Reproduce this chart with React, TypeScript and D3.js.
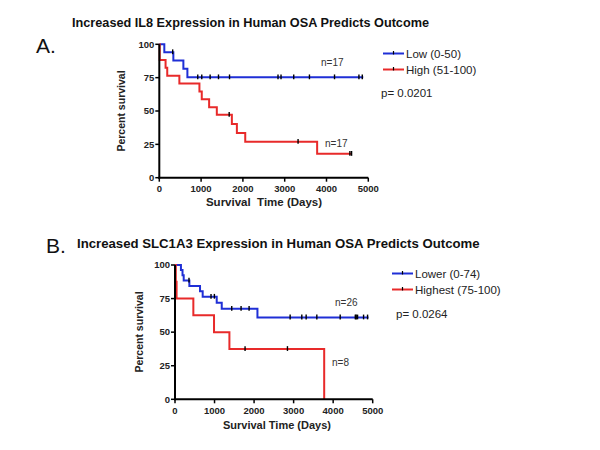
import React from "react";
import * as d3 from "d3";

// ---------- Panel A data (IL8) ----------
const aLowTimes = [0, 120, 336, 576, 672];
const aLowSurv = [100, 94.1, 87.8, 81.6, 75.3];
const aLowEnd = 4880;
const aLowCensor = [320, 920, 1016, 1216, 1416, 1680, 2840, 2912, 3216, 3592, 4192, 4776, 4856];

const aHighTimes = [0, 10, 150, 190, 480, 960, 1016, 1192, 1376, 1736, 1856, 2056, 3776];
const aHighSurv = [100, 88.2, 82.4, 76.5, 70.6, 64.7, 58.8, 52.9, 47.1, 40.3, 33.6, 26.9, 17.9];
const aHighEnd = 4600;
const aHighCensor = [1672, 3320, 4560, 4600];

// ---------- Panel B data (SLC1A3) ----------
const bLowTimes = [0, 150, 190, 220, 363, 633, 700, 1055, 1182, 2085];
const bLowSurv = [100, 96.2, 92.3, 88.5, 84.4, 80.4, 76.4, 71.9, 67.4, 61];
const bLowEnd = 4895;
const bLowCensor = [354, 911, 996, 1435, 1671, 1874, 2912, 3207, 3317, 3587, 4178, 4560, 4583, 4617, 4769, 4870];

const bHighTimes = [0, 20, 40, 464, 987, 1376, 3773];
const bHighSurv = [100, 87.5, 75, 62.5, 50, 37.5, 0];
const bHighEnd = 3773;
const bHighCensor = [1772, 2844];

const xTicks = [0, 1000, 2000, 3000, 4000, 5000];
const yTicks = [0, 25, 50, 75, 100];

const BLUE = "#1f2fd6";
const RED = "#e82a2a";
const FONT = "Liberation Sans, Arial, sans-serif";

type Series = { times: number[]; surv: number[]; end: number; censor: number[]; color: string };

function survAt(s: Series, t: number) {
  let v = s.surv[0];
  for (let i = 0; i < s.times.length; i++) if (s.times[i] <= t) v = s.surv[i];
  return v;
}

function KMPanel(props: {
  x0: number; x1: number; y0: number; y1: number;
  series: Series[];
}) {
  const { x0, x1, y0, y1, series } = props;
  const x = d3.scaleLinear().domain([0, 5000]).range([x0, x1]);
  const y = d3.scaleLinear().domain([0, 100]).range([y0, y1]);
  const line = d3.line<[number, number]>().x(d => x(d[0])).y(d => y(d[1])).curve(d3.curveStepAfter);
  return (
    <g>
      {series.map((s, i) => {
        const pts: [number, number][] = s.times.map((t, j) => [t, s.surv[j]] as [number, number]);
        pts.push([s.end, s.surv[s.surv.length - 1]]);
        return <path key={i} d={line(pts) || ""} fill="none" stroke={s.color} strokeWidth={2} />;
      })}
      {series.map((s, i) =>
        s.censor.map((t, j) => (
          <line key={i + "-" + j} x1={x(t)} x2={x(t)} y1={y(survAt(s, t)) - 2.8} y2={y(survAt(s, t)) + 2}
            stroke="#000" strokeWidth={1.4} />
        ))
      )}
      {/* axes */}
      <line x1={x0} x2={x0} y1={y1} y2={y0 + 1} stroke="#000" strokeWidth={2} />
      <line x1={x0 - 1} x2={x1} y1={y0} y2={y0} stroke="#000" strokeWidth={2} />
      {yTicks.map(t => (
        <g key={"y" + t}>
          <line x1={x0 - 4} x2={x0} y1={y(t)} y2={y(t)} stroke="#000" strokeWidth={1.5} />
          <text x={x0 - 5} y={y(t) + 3.3} textAnchor="end" fontSize={9.5} fontWeight="bold" fontFamily={FONT} fill="#222">{t}</text>
        </g>
      ))}
      {xTicks.map(t => (
        <g key={"x" + t}>
          <line x1={x(t)} x2={x(t)} y1={y0} y2={y0 + 4} stroke="#000" strokeWidth={1.5} />
          <text x={x(t)} y={y0 + 14.5} textAnchor="middle" fontSize={9.5} fontWeight="bold" fontFamily={FONT} fill="#222">{t}</text>
        </g>
      ))}
    </g>
  );
}

function Legend(props: { x: number; y: number; labels: string[]; colors: string[] }) {
  const { x, y, labels, colors } = props;
  return (
    <g>
      {labels.map((l, i) => (
        <g key={i}>
          <line x1={x} x2={x + 21} y1={y + i * 16} y2={y + i * 16} stroke={colors[i]} strokeWidth={2} />
          <line x1={x + 10.5} x2={x + 10.5} y1={y + i * 16 - 2.5} y2={y + i * 16 + 1} stroke="#000" strokeWidth={1.2} />
          <text x={x + 23} y={y + i * 16 + 4} fontSize={11.5} fontFamily={FONT} fill="#222">{l}</text>
        </g>
      ))}
    </g>
  );
}

export default function App() {
  const sA: Series[] = [
    { times: aLowTimes, surv: aLowSurv, end: aLowEnd, censor: aLowCensor, color: BLUE },
    { times: aHighTimes, surv: aHighSurv, end: aHighEnd, censor: aHighCensor, color: RED },
  ];
  const sB: Series[] = [
    { times: bLowTimes, surv: bLowSurv, end: bLowEnd, censor: bLowCensor, color: BLUE },
    { times: bHighTimes, surv: bHighSurv, end: bHighEnd, censor: bHighCensor, color: RED },
  ];
  return (
    <svg width={600} height={450} style={{ position: "absolute", left: 0, top: 0, background: "#fff" }}>
      <rect width={600} height={450} fill="#fff" />
      {/* Panel A */}
      <text x={36} y={53} fontSize={21} fontFamily={FONT} fill="#111">A.</text>
      <text x={72} y={27} fontSize={12.7} fontWeight="bold" fontFamily={FONT} fill="#111">Increased IL8 Expression in Human OSA Predicts Outcome</text>
      <KMPanel x0={159.3} x1={368.3} y0={177.7} y1={44.3} series={sA} />
      <text transform="translate(125,111) rotate(-90)" textAnchor="middle" fontSize={10.5} fontWeight="bold" fontFamily={FONT} fill="#222">Percent survival</text>
      <text x={264} y={206} textAnchor="middle" fontSize={11.5} fontWeight="bold" fontFamily={FONT} fill="#222" style={{ whiteSpace: "pre" }}>{"Survival  Time (Days)"}</text>
      <text x={321} y={66} fontSize={10} fontFamily={FONT} fill="#333">n=17</text>
      <text x={325} y={147} fontSize={10} fontFamily={FONT} fill="#333">n=17</text>
      <Legend x={383} y={53.5} labels={["Low (0-50)", "High (51-100)"]} colors={[BLUE, RED]} />
      <text x={381} y={97} fontSize={11.5} fontFamily={FONT} fill="#222">p= 0.0201</text>

      {/* Panel B */}
      <text x={46} y={253} fontSize={21} fontFamily={FONT} fill="#111">B.</text>
      <text x={77} y={248} fontSize={13.2} fontWeight="bold" fontFamily={FONT} fill="#111">Increased SLC1A3 Expression in Human OSA Predicts Outcome</text>
      <KMPanel x0={175} x1={372.7} y0={399.3} y1={265} series={sB} />
      <text transform="translate(143,332) rotate(-90)" textAnchor="middle" fontSize={10.5} fontWeight="bold" fontFamily={FONT} fill="#222">Percent survival</text>
      <text x={277} y={429} textAnchor="middle" fontSize={11} fontWeight="bold" fontFamily={FONT} fill="#222">Survival Time (Days)</text>
      <text x={335} y={306} fontSize={10} fontFamily={FONT} fill="#333">n=26</text>
      <text x={332} y={366} fontSize={10} fontFamily={FONT} fill="#333">n=8</text>
      <Legend x={392} y={273.5} labels={["Lower (0-74)", "Highest (75-100)"]} colors={[BLUE, RED]} />
      <text x={396} y={318} fontSize={11.5} fontFamily={FONT} fill="#222">p= 0.0264</text>
    </svg>
  );
}
